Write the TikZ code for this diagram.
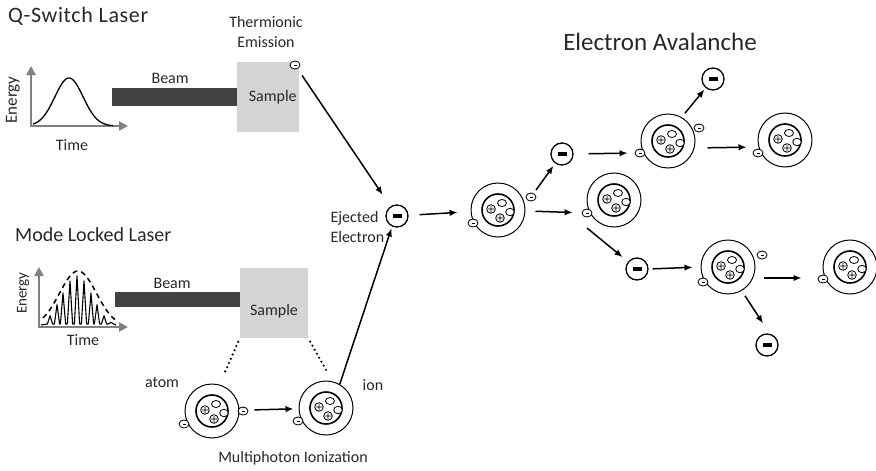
\documentclass[tikz,border=0pt]{standalone}
\usepackage{fontspec}
\setmainfont{Carlito}
\usepackage{tikz}
\usetikzlibrary{arrows.meta, positioning, shapes.geometric}
\definecolor{axisgrey}{RGB}{128,128,128}
\definecolor{beamgrey}{RGB}{66,66,66}
\definecolor{samplegrey}{RGB}{212,212,212}
\definecolor{txt}{RGB}{40,40,40}

\begin{document}
\begin{tikzpicture}[x=1pt, y=-1pt, >={Latex[length=8pt,width=6.5pt]},
      every node/.style={text=txt, font=\fontsize{16}{20.5}\selectfont},
      title/.style={font=\fontsize{20}{24}\selectfont, inner sep=0pt},
      axis/.style={draw=axisgrey, line width=2.4pt, -{Triangle[length=9pt,width=9pt]}},
      beam/.style={rectangle, fill=beamgrey, inner sep=0pt},
      sample/.style={rectangle, fill=samplegrey, inner sep=0pt, minimum height=70pt},
      arr/.style={->, line width=1.5pt},
      dots/.style={line width=2.4pt, dash pattern=on 0pt off 4.6pt, line cap=round},
      atom/.style={circle, draw=black, line width=1pt, minimum size=54pt, inner sep=0pt},
      electron/.style={circle, draw=black, line width=1.3pt, minimum size=22pt, inner sep=0pt,
          fill=white, path picture={\fill[black] (path picture bounding box.center)
              ++(-4.5pt,-1.6pt) rectangle ++(9pt,3.2pt);}},
      small e/.style={ellipse, draw=black, line width=.8pt, fill=white, minimum width=10pt,
          minimum height=8pt, inner sep=0pt, path picture={\draw[black, line width=.6pt]
              ([xshift=-1.5pt]path picture bounding box.center) --
              ([xshift=1.5pt]path picture bounding box.center);}},
      nucleus/.pic={
          \draw[line width=1.6pt] (0,0) circle (16pt);
          \foreach \px/\py in {-7/-1, 2/8}
            \draw[line width=.8pt] (\px,\py) circle (4.3pt)
              (\px-3,\py) -- (\px+3,\py) (\px,\py-3) -- (\px,\py+3);
          \draw[line width=.8pt, fill=white] (4,-7) ellipse (4.5pt and 3.5pt)
              (12,2) ellipse (4.3pt and 3.7pt);
      }]
    \useasboundingbox (0,0) rectangle (876,471);

    % q-switch pulse
    \node[title, anchor=west, font=\fontsize{22}{25}\selectfont\addfontfeatures{LetterSpace=3}]
        (qtitle) at (8,16) {Q-Switch Laser};
    \draw[axis] (31,127) -- (31,66);
    \draw[axis] (30,126) -- (128,126);
    \draw[line width=1.3pt] plot[domain=33:113, samples=60, smooth]
        (\x, {126-48*exp(-((\x-69)/20)*((\x-69)/20))});
    \node[rotate=90, font=\fontsize{17}{20}\selectfont] (qenergy) at (13,100) {Energy};
    \node (qtime) at (72,145) {Time};

    \node[sample, minimum width=62pt] (s1) at (268,97) {};
    \node[anchor=east] (s1lab) at ([xshift=1pt]s1.east) {Sample};
    \node[beam, minimum width=125pt, minimum height=18pt, left=0pt of s1] (beam1) {};
    \node[above=1pt of beam1, xshift=-4pt] (beam1lab) {Beam};
    \node[align=center] (thermo) at (266,32) {Thermionic\\Emission};
    \node[small e] (s1e) at (295,65) {};

    % mode locked pulse train
    \node[title, anchor=west] (mtitle) at (15,235) {Mode Locked Laser};
    \draw[axis] (39,328) -- (39,267);
    \draw[axis] (38,327) -- (128,327);
    \draw[line width=1.1pt, line join=round] (41,325)
        \foreach \s in {50,57,63,70,77,84,91,97,104,111} {
          -- (\s-2.6,324) -- (\s, {327-51*exp(-((\s-77)/22)*((\s-77)/22))}) -- (\s+2.6,324)}
        -- (116,325);
    \draw[line width=1.5pt, dash pattern=on 5pt off 4pt] plot[domain=43:118, samples=40, smooth]
        (\x, {327-56*exp(-((\x-78)/26)*((\x-78)/26))});
    \node[rotate=90, font=\fontsize{15}{17}\selectfont] (menergy) at (23,293) {Energy};
    \node (mtime) at (83,340) {Time};

    \node[sample, minimum width=68pt] (s2) at (274,303) {};
    \node (s2lab) at (274,311) {Sample};
    \node[beam, minimum width=125pt, minimum height=15pt, anchor=east] (beam2)
        at ([yshift=3.5pt]s2.west) {};
    \node[above=0pt of beam2, xshift=-5pt] (beam2lab) {Beam};

    % multiphoton ionization
    \node[atom] (atom) at (212,411) {};
    \pic at (atom) {nucleus};
    \node[small e] (atoml) at (184,424) {};
    \node[small e] (atomr) at (243,411) {};
    \node (atomlab) at (162,382) {atom};

    \node[atom] (ion) at (326,408) {};
    \pic at (ion) {nucleus};
    \node[small e] (ions) at (298,421) {};
    \node (ionlab) at (373,385) {ion};
    \node (mpi) at (293,458) {Multiphoton Ionization};

    \draw[dots, shorten <=4pt, shorten >=10pt] (s2.south west) -- ([xshift=8pt]atom.north);
    \draw[dots, shorten <=4pt, shorten >=8pt] (s2.south east) -- ([xshift=6pt]ion.north);
    \draw[arr, shorten <=15pt, shorten >=5pt] (atom) -- (ion);

    % ejected electron
    \node[electron] (ej) at (397,216) {};
    \node[anchor=west, align=left] (ejlab) at (327,227) {Ejected\\Electron};
    \draw[arr, shorten <=8pt, shorten >=14pt] (s1e) -- (ej);
    \draw[arr, shorten >=2pt] (ion.60) -- (ej.245);

    % avalanche
    \node[font=\fontsize{25}{29}\selectfont] (avtitle) at (660,42) {Electron Avalanche};

    \node[atom] (a1) at (498,210) {};
    \pic at (a1) {nucleus};
    \node[small e] (a1l) at (473,223) {};
    \node[small e] (a1r) at (531,197) {};

    \node[electron] (e1) at (562,154) {};
    \node[atom] (a2) at (614,200) {};
    \pic at (a2) {nucleus};
    \node[small e] (a2s) at (587,213) {};
    \node[electron] (e2) at (637,269) {};

    \node[atom] (a3) at (668,141) {};
    \pic at (a3) {nucleus};
    \node[small e] (a3s) at (640,153) {};
    \node[small e] (a3r) at (699,128) {};
    \node[electron] (e3) at (713,79) {};
    \node[atom] (a4) at (785,140) {};
    \pic at (a4) {nucleus};
    \node[small e] (a4s) at (758,153) {};

    \node[atom] (a5) at (728,267) {};
    \pic at (a5) {nucleus};
    \node[small e] (a5l) at (703,282) {};
    \node[small e] (a5r) at (762,255) {};
    \node[electron] (e4) at (767,345) {};
    \node[atom] (a6) at (850,267) {};
    \pic at (a6) {nucleus};
    \node[small e] (a6s) at (823,279) {};

    \draw[arr, shorten <=11pt, shorten >=13pt] (ej) -- (a1);
    \draw[arr, shorten <=4pt, shorten >=3pt] (a1r) -- (e1);
    \draw[arr, shorten <=10pt, shorten >=9pt] (a1) -- (a2s);
    \draw[arr, shorten >=7pt] ([yshift=-15pt]a2s.center) -- (e2);
    \draw[arr, shorten <=4pt, shorten >=8pt] (e2.east) -- (a5.west);
    \draw[arr, shorten <=15pt, shorten >=7pt] (e1.east) -- (a3s.west);
    \draw[arr, shorten <=5pt, shorten >=2pt] (a3.60) -- (e3);
    \draw[arr, shorten <=12pt, shorten >=11pt] ([yshift=-7pt]a3.east) -- ([yshift=-7pt]a4.west);
    \draw[arr, shorten <=8pt, shorten >=21pt] ([yshift=-11pt]a5.east) -- ([yshift=-11pt]a6.west);
    \draw[arr, shorten <=6pt] (a5.300) -- ([xshift=-4pt,yshift=10pt]e4.north);
  \end{tikzpicture}
\end{document}
